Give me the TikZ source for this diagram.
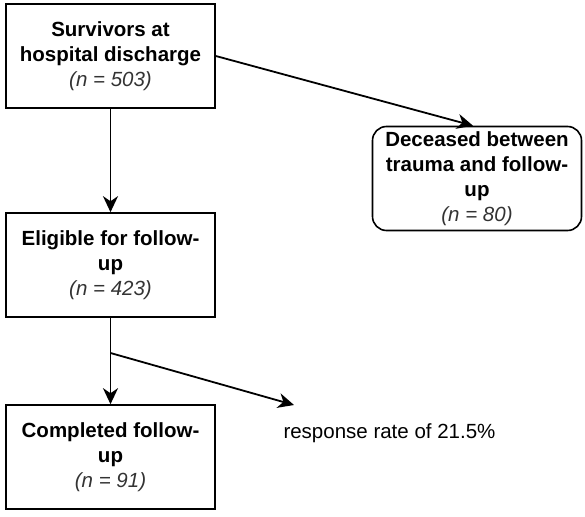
\documentclass[tikz,border=0pt]{standalone}
\usepackage{fontspec}
\setmainfont{Liberation Sans}
\usetikzlibrary{arrows.meta}
\tikzstyle{box} = [draw, line width=1.6pt, minimum width=209pt, minimum height=104pt, inner sep=0pt, align=center, font=\fontsize{20.5}{25}\selectfont]
\tikzstyle{roundbox} = [box, rounded corners=14pt]
\tikzstyle{flow} = [line width=1.8pt, -{Stealth[length=16pt,width=15pt,inset=5pt]}]
\newcommand{\ncount}[1]{{\color{black!80}\itshape (n = #1)}}

\begin{document}
\begin{tikzpicture}[x=1pt, y=-1pt]
    \useasboundingbox (0,0) rectangle (585,516);
    \draw (110.5,56) node[box] (survivors) {\textbf{Survivors at}\\\textbf{hospital discharge}\\\ncount{503}};
    \draw (477,178.5) node[roundbox] (deceased) {\textbf{Deceased between}\\\textbf{trauma and follow-}\\\textbf{up}\\\ncount{80}};
    \draw (110.5,265) node[box] (eligible) {\textbf{Eligible for follow-}\\\textbf{up}\\\ncount{423}};
    \draw (110.5,457) node[box] (completed) {\textbf{Completed follow-}\\\textbf{up}\\\ncount{91}};
    \draw (389.5,433) node[font=\fontsize{20.5}{25}\selectfont] (rate) {response rate of 21.5\%};
    \coordinate (split) at (110.5,353);
    \coordinate (ratetip) at (294,405);
    \draw [flow] (survivors.east) -- ([xshift=-4pt]deceased.north);
    \draw [flow] (survivors) -- (eligible);
    \draw [flow] (eligible) -- (completed);
    \draw [flow] (split) -- (ratetip);
\end{tikzpicture}
\end{document}
